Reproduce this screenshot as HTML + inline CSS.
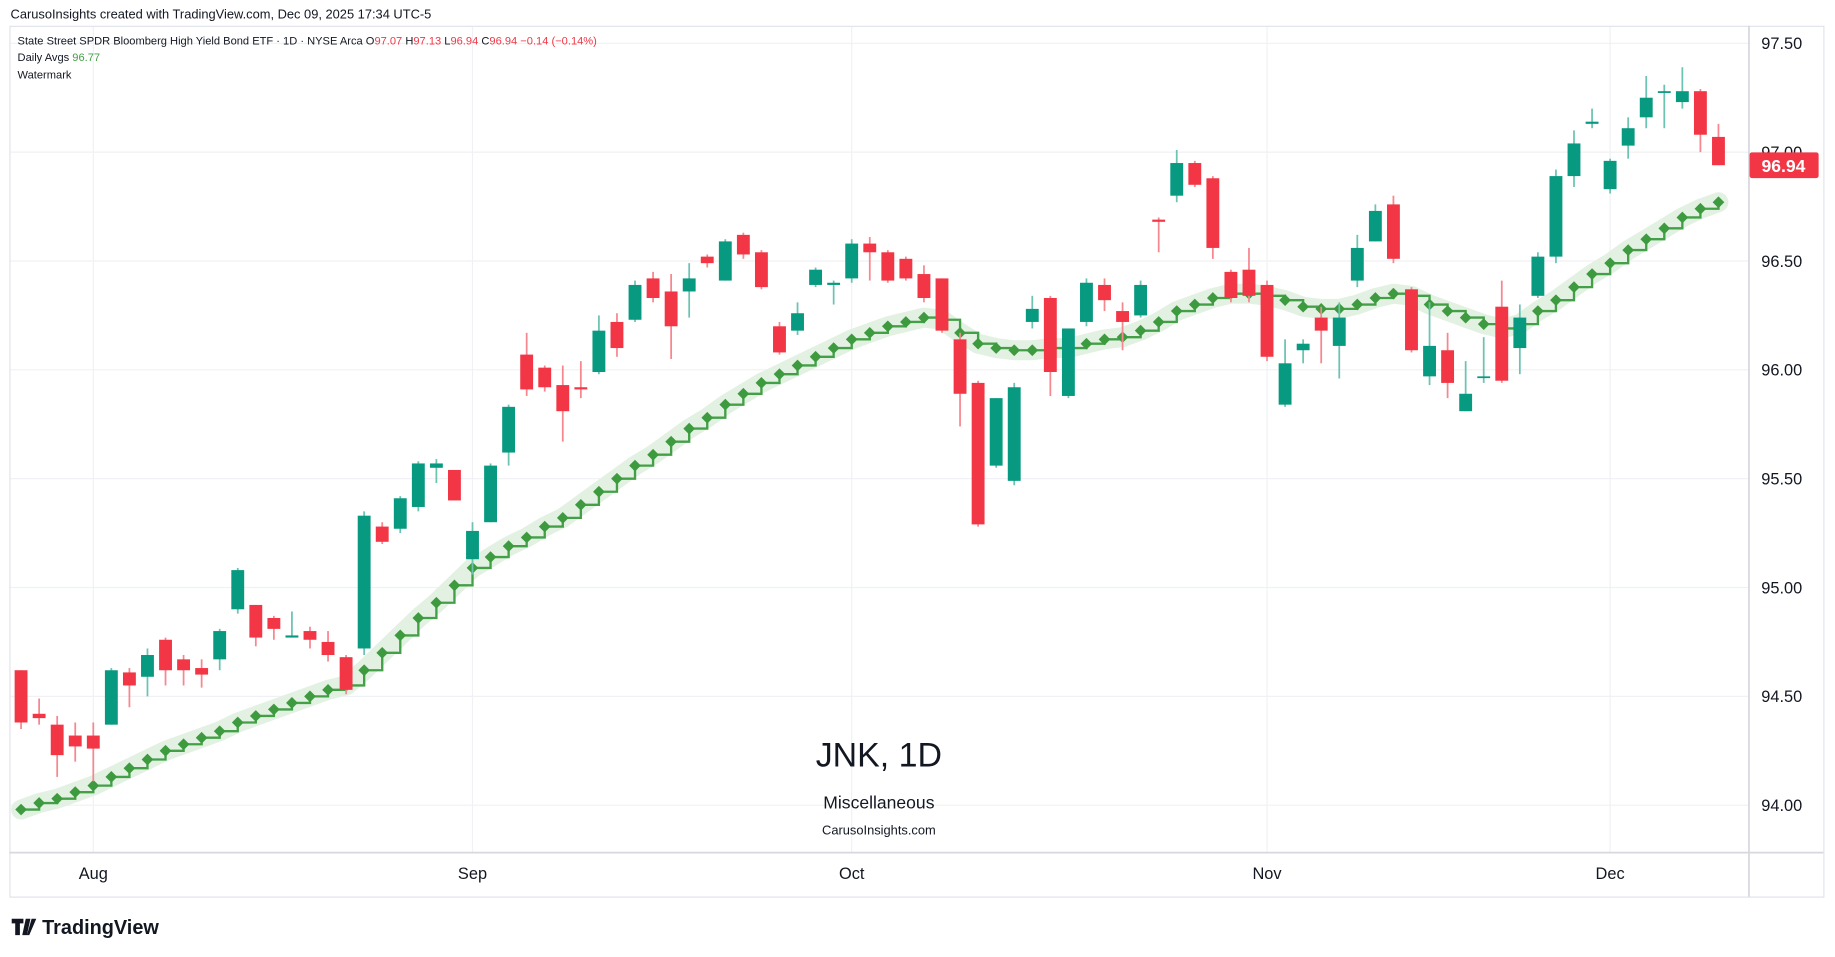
<!DOCTYPE html>
<html><head><meta charset="utf-8"><style>
html,body{margin:0;padding:0;background:#fff;}
svg{display:block;font-family:"Liberation Sans",sans-serif;}
</style></head><body>
<svg id="chart" width="1835" height="957" viewBox="0 0 1568 817.7" preserveAspectRatio="none" xmlns="http://www.w3.org/2000/svg">
<rect x="0" y="0" width="1568" height="818" fill="#fff"/>
<text x="9" y="16" font-size="11" fill="#131722">CarusoInsights created with TradingView.com, Dec 09, 2025 17:34 UTC-5</text>
<rect x="8.5" y="22.5" width="1550" height="744" fill="none" stroke="#e0e3eb"/>
<g id="grid"></g>
<g id="wm">
<text x="751" y="655" font-size="29" text-anchor="middle" fill="#131722">JNK, 1D</text>
<text x="751" y="691" font-size="15" text-anchor="middle" fill="#131722">Miscellaneous</text>
<text x="751" y="713" font-size="11" text-anchor="middle" fill="#131722">CarusoInsights.com</text>
</g>
<g id="avg"></g>
<g id="candles"></g>
<line x1="1494.5" y1="22" x2="1494.5" y2="766" stroke="#d6d8de" stroke-width="1.5"/>
<line x1="8" y1="728.5" x2="1558" y2="728.5" stroke="#d6d8de" stroke-width="1.5"/>
<g id="yaxis"></g>
<g id="xaxis"></g>
<g font-size="9.5">
<text x="15" y="38" fill="#131722">State Street SPDR Bloomberg High Yield Bond ETF · 1D · NYSE Arca <tspan>O</tspan><tspan fill="#f23645">97.07</tspan> H<tspan fill="#f23645">97.13</tspan> L<tspan fill="#f23645">96.94</tspan> C<tspan fill="#f23645">96.94</tspan> <tspan fill="#f23645">−0.14 (−0.14%)</tspan></text>
<text x="15" y="52" fill="#131722">Daily Avgs <tspan fill="#43a047">96.77</tspan></text>
<text x="15" y="67" fill="#131722">Watermark</text>
</g>
<g id="lastprice"></g>
<g>
<path d="M10 785h10v4h-3v10h-4v-10h-3z M22 785h4l-3 14h-4z M27 785h4l-6 14h-2z" fill="#131722"/>
<text x="36" y="798" font-size="17" font-weight="bold" fill="#131722">TradingView</text>
</g>
</svg>
<script>
const dates = ["Jul28","Jul29","Jul30","Jul31","Aug1","Aug4","Aug5","Aug6","Aug7","Aug8","Aug11","Aug12","Aug13","Aug14","Aug15","Aug18","Aug19","Aug20","Aug21","Aug22","Aug25","Aug26","Aug27","Aug28","Aug29","Sep2","Sep3","Sep4","Sep5","Sep8","Sep9","Sep10","Sep11","Sep12a","Sep15","Sep16","Sep17","Sep18","Sep19","Sep22","Sep23","Sep24","Sep25","Sep26","Sep29","Sep30","Oct1","Oct2","Oct3","Oct6","Oct7","Oct8","Oct9","Oct10","Oct13","Oct14","Oct15","Oct16","Oct17","Oct20","Oct21","Oct22","Oct23","Oct24","Oct27","Oct28","Oct29","Oct30","Oct31b","Nov3","Nov4","Nov5","Nov6","Nov7","Nov10","Nov11","Nov12","Nov13","Nov14","Nov17","Nov18","Nov19","Nov20","Nov21","Nov24","Nov25","Nov26","Nov28","Dec1","Dec2","Dec3","Dec4","Dec5","Dec8","Dec9"];
const opens = [94.62,94.42,94.37,94.32,94.32,94.37,94.61,94.59,94.76,94.67,94.63,94.67,94.90,94.92,94.86,94.77,94.80,94.75,94.68,94.72,95.28,95.27,95.37,95.55,95.54,95.13,95.30,95.62,96.07,96.01,95.93,95.92,95.99,96.22,96.23,96.42,96.36,96.36,96.52,96.41,96.62,96.54,96.20,96.18,96.39,96.39,96.42,96.58,96.54,96.51,96.44,96.42,96.14,95.94,95.56,95.49,96.22,96.33,95.88,96.22,96.39,96.27,96.25,96.69,96.80,96.95,96.88,96.45,96.46,96.39,95.84,96.09,96.24,96.11,96.41,96.59,96.76,96.37,95.97,96.09,95.81,95.97,96.29,96.10,96.34,96.52,96.89,97.13,96.83,97.03,97.16,97.28,97.23,97.28,97.07];
const highs = [94.62,94.49,94.41,94.38,94.38,94.63,94.63,94.72,94.77,94.69,94.67,94.81,95.09,94.92,94.87,94.89,94.82,94.80,94.69,95.35,95.30,95.42,95.58,95.59,95.54,95.30,95.57,95.84,96.17,96.02,96.02,96.04,96.25,96.26,96.41,96.45,96.44,96.49,96.53,96.60,96.63,96.55,96.22,96.31,96.47,96.41,96.60,96.61,96.55,96.52,96.48,96.42,96.17,95.95,95.87,95.94,96.34,96.34,96.19,96.42,96.42,96.31,96.41,96.70,97.01,96.96,96.89,96.46,96.56,96.41,96.14,96.14,96.29,96.31,96.62,96.76,96.80,96.38,96.31,96.17,96.04,96.15,96.41,96.30,96.54,96.92,97.10,97.20,96.97,97.16,97.35,97.31,97.39,97.29,97.13];
const lows = [94.35,94.37,94.13,94.20,94.11,94.37,94.45,94.50,94.55,94.55,94.54,94.62,94.88,94.73,94.76,94.77,94.72,94.66,94.51,94.69,95.20,95.25,95.35,95.48,95.40,95.06,95.30,95.56,95.88,95.90,95.67,95.87,95.98,96.06,96.22,96.31,96.05,96.24,96.47,96.41,96.51,96.37,96.07,96.16,96.38,96.30,96.40,96.41,96.40,96.41,96.31,96.17,95.74,95.28,95.55,95.47,96.19,95.88,95.87,96.20,96.27,96.09,96.24,96.54,96.77,96.84,96.51,96.31,96.31,96.04,95.83,96.03,96.03,95.96,96.38,96.59,96.49,96.08,95.93,95.87,95.81,95.94,95.94,95.98,96.33,96.49,96.84,97.11,96.81,96.97,97.11,97.11,97.20,97.00,96.94];
const closes = [94.38,94.40,94.23,94.27,94.26,94.62,94.55,94.69,94.62,94.62,94.60,94.80,95.08,94.77,94.81,94.78,94.76,94.69,94.53,95.33,95.21,95.41,95.57,95.57,95.40,95.26,95.56,95.83,95.91,95.92,95.81,95.91,96.18,96.10,96.39,96.33,96.20,96.42,96.49,96.59,96.53,96.38,96.08,96.26,96.46,96.40,96.58,96.54,96.41,96.42,96.33,96.18,95.89,95.29,95.87,95.92,96.28,95.99,96.19,96.40,96.32,96.22,96.39,96.68,96.95,96.85,96.56,96.33,96.34,96.06,96.03,96.12,96.18,96.24,96.56,96.73,96.51,96.09,96.11,95.94,95.89,95.97,95.95,96.24,96.52,96.89,97.04,97.14,96.96,97.11,97.25,97.28,97.28,97.08,96.94];
const avgs = [93.98,94.01,94.03,94.06,94.09,94.13,94.17,94.21,94.25,94.28,94.31,94.34,94.38,94.41,94.44,94.47,94.50,94.53,94.55,94.62,94.70,94.78,94.86,94.93,95.01,95.09,95.14,95.19,95.23,95.28,95.32,95.38,95.44,95.50,95.56,95.61,95.67,95.73,95.78,95.84,95.89,95.94,95.98,96.02,96.06,96.10,96.14,96.17,96.20,96.22,96.24,96.23,96.17,96.12,96.10,96.09,96.09,96.10,96.10,96.12,96.14,96.15,96.18,96.22,96.27,96.30,96.33,96.35,96.35,96.34,96.32,96.29,96.28,96.28,96.30,96.33,96.35,96.34,96.30,96.27,96.24,96.21,96.19,96.21,96.27,96.32,96.38,96.44,96.49,96.55,96.60,96.65,96.70,96.74,96.77];
const priceTicks = [97.5,97.0,96.5,96.0,95.5,95.0,94.5,94.0];
const monthLabels = ["Aug","Sep","Oct","Nov","Dec"];
const monthIndex = [4,25,46,69,88];
const lastPrice = 96.94;

const NS="http://www.w3.org/2000/svg";
function yOf(p){return 37+(97.5-p)*186;}
function xOf(i){return 18+i*15.43;}
function mk(tag,attrs,parent){const e=document.createElementNS(NS,tag);for(const k in attrs)e.setAttribute(k,attrs[k]);parent.appendChild(e);return e;}
const grid=document.getElementById('grid'),yaxis=document.getElementById('yaxis'),xaxis=document.getElementById('xaxis');
priceTicks.forEach(p=>{
  const l=mk('line',{x1:9,x2:1494,y1:yOf(p),y2:yOf(p),stroke:'#f0f1f4','stroke-width':1},grid);
  
  
  const t=mk('text',{x:1540,y:yOf(p)+5,'font-size':14,'text-anchor':'end',fill:'#131722'},yaxis);
  t.textContent=p.toFixed(2);
  
  
});
monthLabels.forEach((m,k)=>{
  const x=xOf(monthIndex[k]);
  const l=mk('line',{x1:x,x2:x,y1:23,y2:728,stroke:'#f0f1f4','stroke-width':1},grid);
  
  
  const t=mk('text',{x:x,y:751,'font-size':14,'text-anchor':'middle',fill:'#131722'},xaxis);
  t.textContent=m;
  
  
});
const avgG=document.getElementById('avg');
let d='';
avgs.forEach((v,i)=>{const x=xOf(i),y=yOf(v);if(i===0)d+=`M${x} ${y}`;else d+=`V${y}`; if(i<avgs.length-1)d+=`H${xOf(i+1)}`;});
let dh='';avgs.forEach((v,i)=>{dh+=(i?'L':'M')+xOf(i)+' '+yOf(v);});
const halo=mk('path',{d:dh,fill:'none',stroke:'#e3f1e3','stroke-width':17,'stroke-linejoin':'round','stroke-linecap':'round'},avgG);


const sl=mk('path',{d:d,fill:'none',stroke:'#43a047','stroke-width':2},avgG);


avgs.forEach((v,i)=>{const x=xOf(i),y=yOf(v);
  const dm=mk('path',{d:`M${x-5} ${y}L${x} ${y-5}L${x+5} ${y}L${x} ${y+5}Z`,fill:'#3d9a3f'},avgG);
  
  
});
const cg=document.getElementById('candles');
dates.forEach((dt,i)=>{
  const o=opens[i],h=highs[i],l=lows[i],c=closes[i],up=c>=o,x=xOf(i);
  const col=up?'#089981':'#f23645',wc=up?'#6cc3b2':'#f7878f';
  const g=mk('g',{},cg);
  
  
  mk('line',{x1:x,x2:x,y1:yOf(h),y2:yOf(l),stroke:wc,'stroke-width':1.5},g);
  const top=yOf(Math.max(o,c)),bot=yOf(Math.min(o,c));
  mk('rect',{x:x-5.5,y:top,width:11,height:Math.max(1.5,bot-top),fill:col},g);
});
const lp=document.getElementById('lastprice');
const ly=yOf(lastPrice);
mk('rect',{x:1495,y:ly-11,width:59,height:22,rx:2,fill:'#f23645'},lp);
const lt=mk('text',{x:1524,y:ly+6,'font-size':15,'text-anchor':'middle','font-weight':'bold',fill:'#fff'},lp);
lt.textContent=lastPrice.toFixed(2);
</script>
</body></html>
